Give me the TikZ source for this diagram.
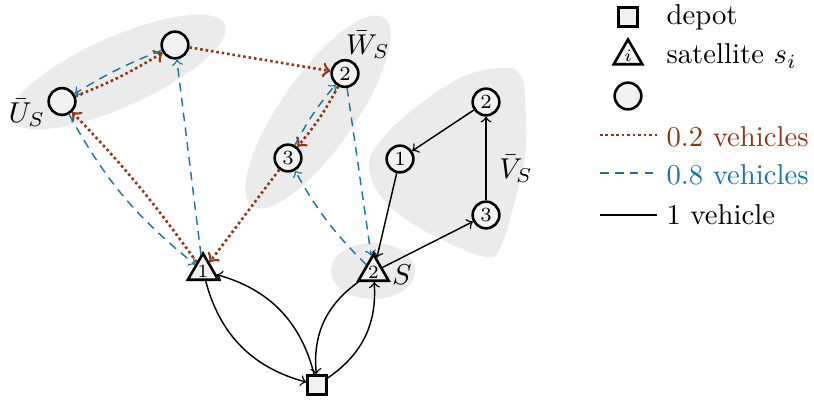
\documentclass[tikz,border=0pt]{standalone}
\usetikzlibrary{shapes.geometric}
\definecolor{flowbrown}{RGB}{140,56,24}
\definecolor{flowblue}{RGB}{27,117,160}
\definecolor{zonegray}{RGB}{235,235,235}
\definecolor{nodegray}{RGB}{242,242,242}
\tikzset{
  cust/.style={circle, draw, line width=0.9pt, fill=nodegray, minimum size=9.3pt, inner sep=0pt, font=\scriptsize},
  sat/.style={regular polygon, regular polygon sides=3, draw, line width=0.9pt, fill=nodegray, minimum size=11.5pt, inner sep=0pt, font=\fontsize{6.5}{6.5}\selectfont},
  dep/.style={rectangle, draw, line width=0.9pt, fill=nodegray, minimum size=6.6pt, inner sep=0pt},
  flowA/.style={flowbrown, line width=0.9pt, densely dotted},
  flowB/.style={flowblue, line width=0.5pt, dash pattern=on 3pt off 2.2pt},
  flowC/.style={black, line width=0.5pt},
  zone/.style={fill=zonegray},
  lbl/.style={inner sep=0pt},
  legtext/.style={inner sep=0pt, anchor=base west},
}
\begin{document}
\begin{tikzpicture}[x=0.3484pt, y=-0.3484pt]
\useasboundingbox (0,0) rectangle (814,403);
% zones
\fill[zone, rotate around={24:(118,72)}] (118,72) ellipse [x radius=117, y radius=35];
\fill[zone, rotate around={55:(318,112)}] (318,112) ellipse [x radius=115, y radius=37];
\fill[zone] plot[smooth cycle, tension=0.7] coordinates {(369,165) (380,142) (410,112) (460,78) (503,68) (520,75) (525,98) (525,155) (513,208) (500,248) (487,257) (453,245) (410,222) (380,195)};
\fill[zone] (373,271) ellipse [x radius=42, y radius=28];
% nodes
\node[dep] (D) at (317,385) {};
\node[sat] (T1) at (203,271) {1};
\node[sat] (T2) at (373.5,272) {2};
\node[cust] (U1) at (62,101.5) {};
\node[cust] (U2) at (175,45) {};
\node[cust] (W2) at (345,73.5) {2};
\node[cust] (W3) at (288,158) {3};
\node[cust] (V1) at (400,159) {1};
\node[cust] (V2) at (486,102) {2};
\node[cust] (V3) at (486,215) {3};
% labels
\node[lbl] (LU) at (27,113) {$\bar{U}_S$};
\node[lbl] (LW) at (368,45) {$\bar{W}_S$};
\node[lbl] (LV) at (516,169) {$\bar{V}_S$};
\node[lbl] (LS) at (402,275) {$S$};
% 0.2 vehicles
\draw[flowA, ->] (T1) to[bend right=4] (U1);
\draw[flowA, ->] (U1) to[bend right=5] (U2);
\draw[flowA, ->] (U2) -- (W2);
\draw[flowA, ->] (W2) to[bend left=6] (W3);
\draw[flowA, ->] (W3) -- (T1);
% 0.8 vehicles
\draw[flowB, ->] (T1) -- (U2);
\draw[flowB, ->] (U2) to[bend right=5] (U1);
\draw[flowB, ->] (U1) to[bend right=11] (T1);
\draw[flowB, ->] (T2) to[bend left=8] (W3);
\draw[flowB, ->] (W3) to[bend left=6] (W2);
\draw[flowB, ->] (W2) -- (T2);
% 1 vehicle
\draw[flowC, ->] (T2) -- (V3);
\draw[flowC, ->] (V3) -- (V2);
\draw[flowC, ->] (V2) -- (V1);
\draw[flowC, ->] (V1) -- (T2);
\draw[flowC, ->] (T1) to[bend right=30] (D);
\draw[flowC, ->] (D) to[bend right=30] (T1);
\draw[flowC, ->] (T2) to[bend right=30] (D);
\draw[flowC, ->] (D) to[bend right=30] (T2);
% legend
\node[dep] (lsq) at (628,17) {};
\node[sat] (ltri) at (628,56) {$i$};
\node[cust] (lcirc) at (628,96) {};
\node[legtext] (ltdepot) at (666,25) {depot};
\node[legtext] (ltsat) at (666,64) {satellite $s_i$};
\coordinate (la1) at (600,135); \coordinate (la2) at (657,135);
\coordinate (lb1) at (600,173); \coordinate (lb2) at (657,173);
\coordinate (lc1) at (600,215); \coordinate (lc2) at (657,215);
\draw[flowA] (la1) -- (la2);
\draw[flowB] (lb1) -- (lb2);
\draw[flowC] (lc1) -- (lc2);
\node[legtext, text=flowbrown] (lta) at (666,147) {0.2 vehicles};
\node[legtext, text=flowblue] (ltb) at (666,185) {0.8 vehicles};
\node[legtext] (ltc) at (666,225) {1 vehicle};
\end{tikzpicture}
\end{document}
